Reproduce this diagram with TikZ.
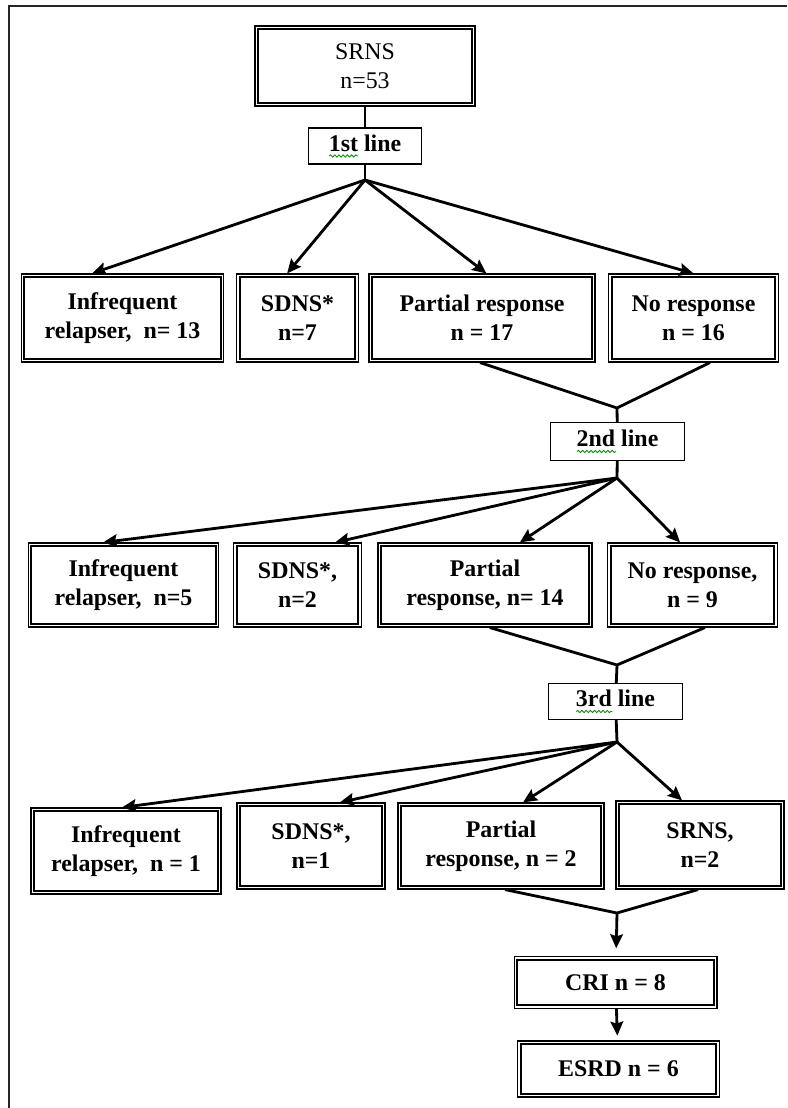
\documentclass[tikz,border=0pt]{standalone}
\usepackage{fontspec}
\setmainfont{Liberation Serif}
\usetikzlibrary{arrows.meta,calc,decorations.pathmorphing}
\newcommand{\spell}[1]{\setbox0\hbox{#1}\rlap{\raisebox{-3.5pt}{\tikz[baseline=0pt]\draw[green!55!black, line width=0.6pt, decorate, decoration={snake, amplitude=0.8pt, segment length=3pt}] (0pt,0pt) -- (\wd0,0pt);}}#1}
\tikzset{
	txt/.style={font=\fontsize{17}{20.5}\selectfont\bfseries},
	box/.style={draw, line width=0.8pt, align=center, inner sep=2pt, txt,
		append after command={\pgfextra{\draw[line width=1.4pt] ([shift={(2.7pt,2.7pt)}]\tikzlastnode.south west) rectangle ([shift={(-2.7pt,-2.7pt)}]\tikzlastnode.north east);}}},
	linebox/.style={draw, line width=1pt, align=center, inner sep=2pt, txt},
	link/.style={line width=2pt},
	arr/.style={line width=2pt, -{Stealth[length=10pt,width=9pt,inset=1.5pt]}}
}

\begin{document}
\begin{tikzpicture}[x=0.025cm, y=-0.025cm]
			%%%%% START %%%%%
			\useasboundingbox (0,0) rectangle (787,1108);
			\draw[line width=1.3pt, black!85] (9,1108) -- (9,6) -- (787,6);
			
			\node[box, font=\fontsize{17}{20.5}\selectfont, minimum width=5.5cm, minimum height=2.0cm] (srns) at (365,66) {SRNS\\n=53};
			\node[linebox, minimum width=2.81cm, minimum height=0.9cm] (l1) at (365,146) {\spell{1st} line};
			\coordinate (j1) at (365,180);
			
			\node[box, minimum width=5.07cm, minimum height=2.2cm] (ir1) at (122.5,318) {Infrequent\\relapser,~ n= 13};
			\node[box, minimum width=3.03cm, minimum height=2.2cm] (sd1) at (297.5,318) {SDNS*\\n=7};
			\node[box, minimum width=5.65cm, minimum height=2.2cm] (pr1) at (482,318) {Partial response\\n = 17};
			\node[box, minimum width=4.23cm, minimum height=2.2cm] (nr1) at (693.5,318) {No response\\n = 16};
			
			\draw[link] (srns) -- (l1);
			\draw[link] (l1) -- (j1);
			\draw[arr] (j1) -- ([xshift=-0.76cm]ir1.north);
			\draw[arr] (j1) -- ([xshift=-0.26cm]sd1.north);
			\draw[arr] (j1) -- ([xshift=0.11cm]pr1.north);
			\draw[arr] (j1) -- (nr1.north);
			
			\coordinate (m1) at (617,408);
			\node[linebox, minimum width=3.34cm, minimum height=0.94cm] (l2) at (617.5,441.5) {\spell{2nd} line};
			\coordinate (j2) at (617,478);
			\draw[link] ([xshift=-0.05cm]pr1.south) -- (m1) -- ([xshift=0.41cm]nr1.south);
			\draw[link] (m1) -- (l2);
			\draw[link] (l2) -- (j2);
			
			\node[box, minimum width=4.77cm, minimum height=2.1cm] (ir2) at (123.5,585) {Infrequent\\relapser,~ n=5};
			\node[box, minimum width=3.18cm, minimum height=2.1cm] (sd2) at (297.5,585) {SDNS*,\\n=2};
			\node[box, minimum width=5.35cm, minimum height=2.1cm] (pr2) at (485,585) {Partial\\response, n= 14};
			\node[box, minimum width=4.23cm, minimum height=2.1cm] (nr2) at (692.5,585) {No response,\\n = 9};
			
			\draw[arr] (j2) -- ([xshift=-0.51cm]ir2.north);
			\draw[arr] (j2) -- ([xshift=0.94cm]sd2.north);
			\draw[arr] (j2) -- ([xshift=0.87cm]pr2.north);
			\draw[arr] (j2) -- ([xshift=-0.31cm]nr2.north);
			
			\coordinate (m2) at (617,665);
			\node[linebox, minimum width=3.34cm, minimum height=0.89cm] (l3) at (615.5,701.5) {\spell{3rd} line};
			\coordinate (j3) at (617,742);
			\draw[link] ([xshift=0.12cm]pr2.south) -- (m2) -- ([xshift=0.31cm]nr2.south);
			\draw[link] (m2) -- (l3);
			\draw[link] (l3) -- (j3);
			
			\node[box, minimum width=4.75cm, minimum height=2.15cm] (ir3) at (126,851) {Infrequent\\relapser,~ n = 1};
			\node[box, minimum width=3.7cm, minimum height=2.15cm] (sd3) at (311,846) {SDNS*,\\n=1};
			\node[box, minimum width=5.15cm, minimum height=2.15cm] (pr3) at (501,846) {Partial\\response, n = 2};
			\node[box, minimum width=4.2cm, minimum height=2.2cm] (sr3) at (700,845) {SRNS,\\n=2};
			
			\draw[arr] (j3) -- ([xshift=-0.1cm]ir3.north);
			\draw[arr] (j3) -- ([xshift=0.72cm]sd3.north);
			\draw[arr] (j3) -- ([xshift=0.55cm]pr3.north);
			\draw[arr] (j3) -- ([xshift=-0.45cm]sr3.north);
			
			\coordinate (m3) at (617,913);
			\node[box, minimum width=5.07cm, minimum height=1.28cm] (cri) at (615.5,982.5) {CRI n = 8};
			\node[box, minimum width=5.03cm, minimum height=1.4cm] (esrd) at (618.5,1069) {ESRD n = 6};
			\draw[link] ([xshift=0.1cm]pr3.south) -- (m3) -- ([xshift=-0.05cm]sr3.south);
			\draw[arr, shorten >=0.2cm] (m3) -- (cri);
			\draw[arr, shorten >=0.12cm] (cri) -- (esrd);
			
			%%%%% END %%%%%
\end{tikzpicture}
\end{document}
